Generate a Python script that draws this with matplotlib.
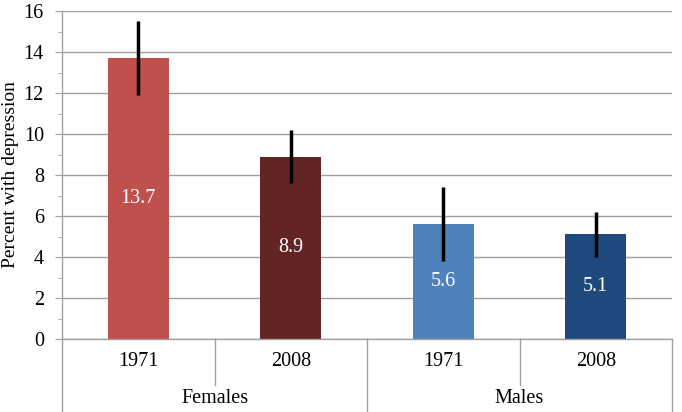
import matplotlib.pyplot as plt
from matplotlib.ticker import MultipleLocator

# data
groups = ['Females', 'Males']
years = ['1971', '2008', '1971', '2008']
values = [13.7, 8.9, 5.6, 5.1]
errors = [1.8, 1.3, 1.8, 1.1]
colors = ['#C0504D', '#632523', '#4F81BD', '#1F497D']

plt.rcParams['font.family'] = ['Liberation Serif', 'DejaVu Serif']
grey = '#A0A0A0'
fs = 14.5

fig = plt.figure(figsize=(6.82, 4.12), dpi=100)
ax = fig.add_axes([62 / 682, 73 / 412, 610 / 682, 328 / 412])

x = list(range(len(values)))
ax.bar(x, values, width=0.4, color=colors, zorder=2)
ax.errorbar(x, values, yerr=errors, fmt='none', ecolor='black',
            elinewidth=2.5, capsize=0, zorder=3)

for xi, v in zip(x, values):
    ax.text(xi, v / 2, f'{v}', ha='center', va='center', color='white', fontsize=fs)

ax.set_xlim(-0.5, len(values) - 0.5)
ax.set_ylim(0, 16)
ax.yaxis.set_major_locator(MultipleLocator(2))
ax.yaxis.set_minor_locator(MultipleLocator(1))
ax.grid(axis='y', color=grey, linewidth=1, zorder=0)
ax.set_axisbelow(True)
ax.tick_params(axis='y', which='major', length=5, color=grey, labelsize=fs, pad=8)
ax.tick_params(axis='y', which='minor', length=3, color=grey)
ax.set_xticks([])
for s in ax.spines.values():
    s.set_visible(False)

# y label centred on the plot area
fig.text(11 / 682, (73 + 164) / 412, 'Percent with depression',
         rotation=90, ha='center', va='center', fontsize=14)

# grouped category axis underneath
tr = ax.get_xaxis_transform()
ax.plot([-0.5, 3.5], [0, 0], transform=tr, color=grey, lw=1, clip_on=False)
for b in [-0.5, 1.5, 3.5]:
    ax.plot([b, b], [1 if b == -0.5 else 0, -0.225], transform=tr,
            color=grey, lw=1, clip_on=False)
for b in [0.5, 2.5]:
    ax.plot([b, b], [0, -0.14], transform=tr, color=grey, lw=1, clip_on=False)
for xi, yr in zip(x, years):
    ax.text(xi, -0.07, yr, transform=tr, ha='center', va='center', fontsize=fs)
for gi, g in enumerate(groups):
    ax.text(gi * 2 + 0.5, -0.18, g, transform=tr, ha='center', va='center', fontsize=fs)

fig.savefig('out.png', dpi=100)
